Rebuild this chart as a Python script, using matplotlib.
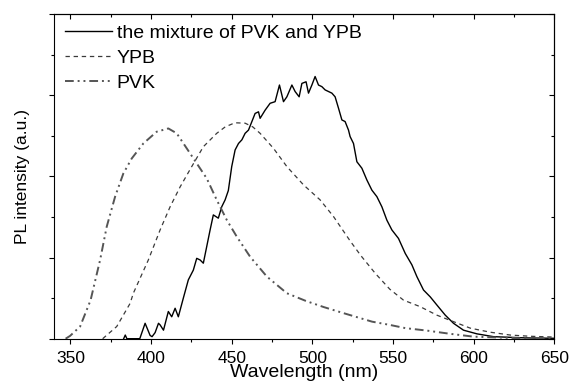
import numpy as np
import matplotlib
matplotlib.use("Agg")
import matplotlib.pyplot as plt
from matplotlib.ticker import MultipleLocator, NullFormatter

plt.rcParams['font.family'] = ['Liberation Sans', 'DejaVu Sans']

mix_nm = [383, 384, 385, 391, 393, 396.3, 399.4, 400.6, 402.5, 404.6, 405.6, 407.7,
          410.7, 412.8, 414.9, 416.9, 420, 423.1, 426.2, 428.3, 430.4, 432.4, 434.5,
          436.6, 438.6, 441.7, 443.8, 445.9, 447.9, 450, 452.1, 454.2, 456.3, 458.3,
          460.4, 462.5, 464.5, 466.6, 467.6, 470.7, 473.8, 476.9, 479.6, 482.1, 484.2,
          487.3, 489.3, 491.8, 493.5, 496.1, 497.6, 499.7, 501.7, 503.8, 505.9, 507.9,
          510, 512.1, 514.1, 516.2, 518.3, 520.3, 522.4, 523.4, 525.5, 527.6, 530.7,
          533.8, 536.9, 540, 543.1, 546.2, 549.3, 553.4, 557.6, 561.7, 564.8, 568.9,
          573.1, 577.2, 582.4, 587.5, 593.7, 602, 612.3, 632, 650]
mix_pl = [0.0, 0.09, 0.0, 0.0, 0.0, 0.38, 0.08, 0.05, 0.15, 0.38, 0.34, 0.21,
          0.67, 0.54, 0.75, 0.54, 1.0, 1.45, 1.69, 1.98, 1.94, 1.86, 2.27,
          2.68, 3.05, 2.97, 3.25, 3.42, 3.65, 4.24, 4.65, 4.81, 4.90, 5.06,
          5.14, 5.35, 5.55, 5.59, 5.43, 5.63, 5.80, 5.84, 6.25, 5.84, 5.96,
          6.25, 6.09, 5.96, 6.29, 6.33, 6.05, 6.25, 6.46, 6.25, 6.21, 6.13,
          6.09, 6.05, 5.96, 5.68, 5.39, 5.35, 5.14, 4.98, 4.81, 4.36, 4.20,
          3.91, 3.66, 3.50, 3.25, 2.92, 2.68, 2.47, 2.10, 1.82, 1.53, 1.20,
          1.03, 0.83, 0.58, 0.38, 0.21, 0.12, 0.05, 0.02, 0.01]

# YPB
ypb_nm = [370, 378.7, 387, 389, 398.3, 405.6, 411.8, 418, 425.2, 432.4, 440.7, 446,
          452, 458.3, 463, 467.6, 475.9, 484.2, 494.5, 504.8, 513.1, 523.4, 530,
          539, 548, 556.5, 566.8, 577.2, 587.5, 597.9, 610.3, 622.7, 635, 650]
ypb_pl = [0.0, 0.3, 0.87, 1.12, 1.94, 2.68, 3.25, 3.74, 4.24, 4.73, 5.06, 5.22,
          5.32, 5.31, 5.22, 5.06, 4.69, 4.24, 3.79, 3.42, 3.01, 2.41, 2.05,
          1.61, 1.22, 0.95, 0.79, 0.58, 0.42, 0.26, 0.16, 0.09, 0.06, 0.04]

# PVK
pvk_nm = [347, 349.8, 356, 362.5, 368.4, 372.5, 377.7, 382.8, 388, 395.2, 403.5,
          410.7, 415.9, 422.1, 428.3, 434.5, 440.7, 447, 453.2, 461.4, 471.8, 484.2,
          496, 507, 519.3, 537, 548, 557.7, 571, 585.5, 600, 630, 650]
pvk_pl = [0.0, 0.07, 0.3, 0.95, 1.94, 2.76, 3.50, 4.07, 4.44, 4.81, 5.10,
          5.18, 5.06, 4.69, 4.32, 3.95, 3.42, 2.92, 2.51, 2.02, 1.53, 1.12,
          0.93, 0.78, 0.63, 0.42, 0.34, 0.26, 0.2, 0.12, 0.05, 0.01, 0.0]

fig = plt.figure(figsize=(5.72, 3.84), dpi=100)
ax = fig.add_axes([54.3 / 572, 1 - 338.7 / 384, 500 / 572, 324.7 / 384])

ax.plot(mix_nm, mix_pl, color='black', lw=1.0, label='the mixture of PVK and YPB')
ax.plot(ypb_nm, ypb_pl, color='#3a3a3a', lw=0.9, linestyle=(0, (3.5, 3.0)), label='YPB')
ax.plot(pvk_nm, pvk_pl, color='#555555', lw=1.4,
        linestyle=(0, (4.5, 2.0, 1.0, 2.0, 1.0, 2.0)), label='PVK')

ax.set_xlim(340, 650)
ax.set_ylim(0, 8)
ax.xaxis.set_major_locator(MultipleLocator(50))
ax.xaxis.set_minor_locator(MultipleLocator(25))
ax.yaxis.set_major_locator(MultipleLocator(2))
ax.yaxis.set_minor_locator(MultipleLocator(1))
ax.yaxis.set_major_formatter(NullFormatter())
ax.tick_params(which='major', direction='out', length=3.6, width=0.8, labelsize=12.5, pad=5)
ax.tick_params(which='minor', direction='out', length=2.2, width=0.8)

# mirrored ticks on top and right, pointing into the plot
top = ax.secondary_xaxis('top')
top.xaxis.set_major_locator(MultipleLocator(50))
top.xaxis.set_minor_locator(MultipleLocator(25))
top.tick_params(which='major', direction='in', length=3.6, width=0.8, labeltop=False)
top.tick_params(which='minor', direction='in', length=2.2, width=0.8)
right = ax.secondary_yaxis('right')
right.yaxis.set_major_locator(MultipleLocator(2))
right.yaxis.set_minor_locator(MultipleLocator(1))
right.tick_params(which='major', direction='in', length=3.6, width=0.8, labelright=False)
right.tick_params(which='minor', direction='in', length=2.2, width=0.8)
for s in [top.spines['top'], right.spines['right']] + list(ax.spines.values()):
    s.set_linewidth(0.8)

ax.set_xlabel('Wavelength (nm)', fontsize=14, labelpad=-1)
ax.set_ylabel('PL intensity (a.u.)', fontsize=12.5, labelpad=9)

ax.legend(loc='upper left', frameon=False, fontsize=14, handlelength=2.4,
          handletextpad=0.25, labelspacing=0.38, borderaxespad=0.1, borderpad=0.45)

fig.savefig('out.png', dpi=100)
